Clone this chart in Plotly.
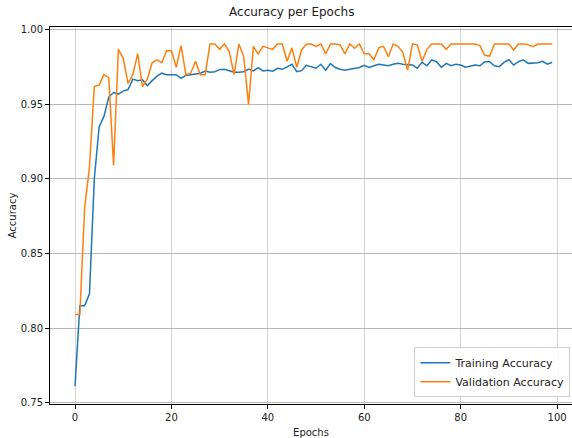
import plotly.graph_objects as go

epochs = list(range(100))

training_accuracy = [
    0.761, 0.815, 0.815, 0.823, 0.900, 0.935, 0.942, 0.955, 0.958, 0.957,
    0.959, 0.960, 0.967, 0.966, 0.9665, 0.9626, 0.966, 0.969, 0.971, 0.970,
    0.970, 0.970, 0.9676, 0.9695, 0.970, 0.9703, 0.971, 0.9725, 0.9716, 0.972,
    0.9734, 0.9736, 0.9725, 0.9716, 0.9716, 0.972, 0.9738, 0.9725, 0.9747, 0.9725,
    0.973, 0.9723, 0.9743, 0.9736, 0.9752, 0.977, 0.972, 0.9727, 0.9763, 0.9752,
    0.9743, 0.977, 0.973, 0.9774, 0.9748, 0.9736, 0.973, 0.9736, 0.9743, 0.9748,
    0.9763, 0.9748, 0.976, 0.977, 0.9765, 0.976, 0.977, 0.9776, 0.977, 0.977,
    0.9765, 0.9743, 0.9783, 0.976, 0.980, 0.9787, 0.975, 0.9776, 0.976, 0.977,
    0.9765, 0.975, 0.976, 0.9765, 0.976, 0.9787, 0.9787, 0.976, 0.9754, 0.9783,
    0.980, 0.9765, 0.9787, 0.980, 0.9776, 0.9776, 0.978, 0.979, 0.977, 0.9783,
]

validation_accuracy = [
    0.809, 0.809, 0.881, 0.908, 0.962, 0.963, 0.970, 0.968, 0.909, 0.987,
    0.981, 0.964, 0.970, 0.984, 0.962, 0.967, 0.978, 0.980, 0.978, 0.986,
    0.986, 0.975, 0.9895, 0.970, 0.971, 0.979, 0.970, 0.970, 0.9906, 0.9906,
    0.987, 0.9906, 0.9855, 0.970, 0.9906, 0.982, 0.950, 0.989, 0.984, 0.989,
    0.988, 0.987, 0.9906, 0.9906, 0.979, 0.988, 0.975, 0.9866, 0.9906, 0.9906,
    0.989, 0.9906, 0.984, 0.9906, 0.9906, 0.990, 0.984, 0.9906, 0.9877, 0.9906,
    0.984, 0.984, 0.980, 0.988, 0.989, 0.982, 0.9906, 0.989, 0.985, 0.973,
    0.9906, 0.990, 0.979, 0.987, 0.9906, 0.9906, 0.9906, 0.987, 0.9906, 0.9906,
    0.9906, 0.9906, 0.9906, 0.9906, 0.9895, 0.983, 0.9825, 0.9906, 0.9906, 0.9906,
    0.9906, 0.9866, 0.9906, 0.9906, 0.990, 0.9888, 0.9906, 0.9906, 0.9906, 0.9906,
]

x_ticks = [0, 20, 40, 60, 80, 100]
y_ticks = [0.75, 0.80, 0.85, 0.90, 0.95, 1.00]
y_tick_labels = ["0.75", "0.80", "0.85", "0.90", "0.95", "1.00"]

FONT = "DejaVu Sans"

fig = go.Figure()
fig.add_trace(go.Scatter(x=epochs, y=training_accuracy, mode="lines",
                         name="Training Accuracy",
                         line=dict(color="#1f77b4", width=1.5)))
fig.add_trace(go.Scatter(x=epochs, y=validation_accuracy, mode="lines",
                         name="Validation Accuracy",
                         line=dict(color="#ff7f0e", width=1.5)))

fig.update_layout(
    width=572, height=438,
    margin=dict(l=50, r=0, t=27, b=34),
    paper_bgcolor="white", plot_bgcolor="white",
    font=dict(family=FONT, size=10, color="#222"),
    title=dict(text="Accuracy per Epochs", x=0.51, xanchor="center",
               y=1 - 12 / 438, yanchor="middle",
               font=dict(family=FONT, size=12, color="#222")),
    showlegend=True,
    legend=dict(x=0.997, y=0.018, xanchor="right", yanchor="bottom",
                bgcolor="rgba(255,255,255,0.85)", bordercolor="#d0d0d0",
                borderwidth=1, font=dict(family=FONT, size=11, color="#222"),
                tracegroupgap=0, itemwidth=30),
    xaxis=dict(range=[-5.19, 103.1], tickvals=x_ticks,
               showgrid=True, gridcolor="#d6d6d6", gridwidth=1,
               showline=True, linecolor="black", linewidth=1, mirror=True,
               ticks="outside", ticklen=4, tickcolor="black", zeroline=False,
               title=dict(text="Epochs", font=dict(family=FONT, size=10), standoff=6)),
    yaxis=dict(range=[0.749, 1.002], tickvals=y_ticks, ticktext=y_tick_labels,
               showgrid=True, gridcolor="#b8b8b8", gridwidth=1,
               showline=True, linecolor="black", linewidth=1, mirror=False,
               ticks="outside", ticklen=4, tickcolor="black", zeroline=False,
               title=dict(text="Accuracy", font=dict(family=FONT, size=10), standoff=2)),
)

fig.write_html("out.html")
